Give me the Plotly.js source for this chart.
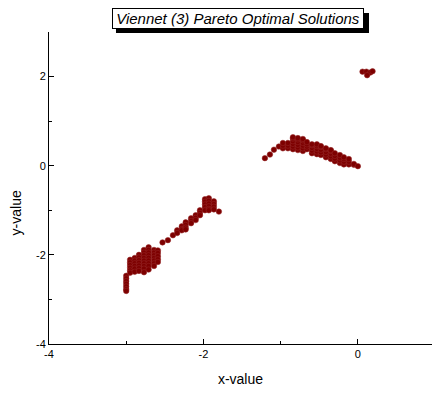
<!DOCTYPE html>
<html>
<head>
<meta charset="utf-8">
<script src="https://cdn.plot.ly/plotly-3.0.1.min.js"></script>
<style>html,body{margin:0;padding:0;background:#fff;}#chart{width:432px;height:393px;}</style>
</head>
<body>
<div id="chart"></div>
<script>
// Pareto optimal solutions (x-value, y-value)
const xValues = [
  -3.00,-3.00,-3.00,-3.00,-3.00,-3.00,-3.00,
  -2.95,-2.95,-2.95,-2.95,-2.95,-2.95,
  -2.89,-2.89,-2.89,-2.89,-2.89,-2.89,
  -2.835,-2.835,-2.835,-2.835,-2.835,-2.835,-2.835,
  -2.77,-2.77,-2.77,-2.77,-2.77,-2.77,-2.77,-2.77,-2.77,
  -2.71,-2.71,-2.71,-2.71,-2.71,-2.71,-2.71,-2.71,-2.71,
  -2.64,-2.64,-2.64,-2.64,-2.64,-2.64,-2.64,
  -2.59,-2.59,-2.59,-2.59,-2.59,
  -2.53,
  -2.46,
  -2.395,
  -2.34,-2.34,
  -2.28,-2.28,-2.28,
  -2.23,-2.23,-2.23,-2.23,
  -2.16,-2.16,-2.16,
  -2.10,-2.10,-2.10,
  -2.045,-2.045,-2.045,
  -1.98,-1.98,-1.98,-1.98,-1.98,
  -1.93,-1.93,-1.93,-1.93,-1.93,-1.93,
  -1.865,-1.865,-1.865,-1.865,
  -1.80,
  -1.204,
  -1.139,
  -1.087,
  -1.023,
  -0.971,-0.971,-0.971,
  -0.906,-0.906,-0.906,
  -0.841,-0.841,-0.841,-0.841,-0.841,-0.841,
  -0.777,-0.777,-0.777,-0.777,-0.777,-0.777,
  -0.712,-0.712,-0.712,-0.712,-0.712,-0.712,
  -0.66,-0.66,-0.66,-0.66,
  -0.595,-0.595,-0.595,-0.595,-0.595,
  -0.531,-0.531,-0.531,-0.531,-0.531,
  -0.479,-0.479,-0.479,-0.479,-0.479,
  -0.414,-0.414,-0.414,-0.414,-0.414,
  -0.35,-0.35,-0.35,-0.35,-0.35,
  -0.298,-0.298,-0.298,-0.298,
  -0.233,-0.233,-0.233,-0.233,
  -0.181,-0.181,-0.181,-0.181,
  -0.117,-0.117,-0.117,
  -0.052,-0.052,
  0.00,
  0.06, 0.11, 0.16, 0.19, 0.12
];
const yValues = [
  -2.47,-2.53,-2.59,-2.65,-2.71,-2.77,-2.81,
  -2.11,-2.17,-2.23,-2.29,-2.35,-2.40,
  -2.07,-2.13,-2.19,-2.25,-2.31,-2.38,
  -2.00,-2.06,-2.12,-2.18,-2.24,-2.30,-2.36,
  -1.89,-1.95,-2.01,-2.07,-2.13,-2.19,-2.25,-2.31,-2.39,
  -1.83,-1.89,-1.95,-2.01,-2.07,-2.13,-2.19,-2.25,-2.33,
  -1.89,-1.95,-2.01,-2.07,-2.13,-2.19,-2.25,
  -1.90,-1.96,-2.03,-2.10,-2.16,
  -1.72,
  -1.67,
  -1.56,
  -1.45,-1.51,
  -1.36,-1.42,-1.45,
  -1.27,-1.33,-1.39,-1.43,
  -1.18,-1.24,-1.29,
  -1.11,-1.17,-1.22,
  -1.00,-1.06,-1.11,
  -0.75,-0.81,-0.87,-0.93,-1.00,
  -0.73,-0.79,-0.85,-0.91,-0.97,-1.00,
  -0.80,-0.86,-0.92,-0.98,
  -1.03,
  0.17,
  0.25,
  0.36,
  0.43,
  0.39,0.45,0.51,
  0.39,0.45,0.51,
  0.37,0.43,0.49,0.55,0.61,0.64,
  0.35,0.41,0.47,0.53,0.59,0.62,
  0.33,0.39,0.45,0.51,0.57,0.60,
  0.37,0.43,0.48,0.53,
  0.28,0.34,0.40,0.46,0.48,
  0.26,0.32,0.38,0.44,0.48,
  0.24,0.30,0.36,0.42,0.44,
  0.19,0.25,0.31,0.37,0.39,
  0.15,0.21,0.27,0.33,0.35,
  0.10,0.16,0.22,0.28,
  0.06,0.12,0.18,0.24,
  0.03,0.09,0.15,0.19,
  0.03,0.09,0.15,
  0.02,0.04,
  -0.01,
  2.11, 2.11, 2.09, 2.12, 2.03
];
const xTickVals = [-4, -2, 0];
const yTickVals = [-4, -2, 0, 2];
const chartTitle = 'Viennet (3) Pareto Optimal Solutions';
const xTitle = 'x-value';
const yTitle = 'y-value';

const FONT = 'Liberation Sans, Arial, sans-serif';

const trace = {
  type: 'scatter',
  mode: 'markers',
  x: xValues,
  y: yValues,
  marker: {color: '#7d0000', size: 5.5, line: {color: 'rgba(150,40,40,0.9)', width: 0.6}},
  hoverinfo: 'x+y',
  showlegend: false
};

const axisCommon = {
  showline: true, linecolor: '#000', linewidth: 1,
  ticks: 'inside', ticklen: 5, tickwidth: 1, tickcolor: '#000',
  showgrid: false, zeroline: false,
  tickfont: {family: FONT, size: 11, color: '#000'},
  minor: {ticks: 'inside', ticklen: 3, tickwidth: 1, tickcolor: '#000', dtick: 1, showgrid: false}
};

const layout = {
  width: 432, height: 393,
  margin: {l: 49, r: 0, t: 32, b: 49},
  paper_bgcolor: '#fff', plot_bgcolor: '#fff',
  font: {family: FONT, color: '#000'},
  xaxis: Object.assign({}, axisCommon, {
    range: [-4, 0.96], tickvals: xTickVals, ticktext: xTickVals.map(String),
    title: {text: xTitle, font: {family: FONT, size: 14, color: '#000'}, standoff: 14}
  }),
  yaxis: Object.assign({}, axisCommon, {
    range: [-4, 3], tickvals: yTickVals, ticktext: yTickVals.map(String),
    title: {text: ''}
  }),
  shapes: [
    // drop shadow of the title box
    {type: 'rect', xref: 'paper', yref: 'paper', x0: 0.1749, x1: 0.8355, y0: 0.9968, y1: 1.0609,
     fillcolor: '#000', line: {width: 0}, layer: 'above'}
  ],
  annotations: [
    {xref: 'paper', yref: 'paper', x: -0.085, y: 0.42, xanchor: 'center', yanchor: 'middle',
     text: yTitle, textangle: -90, showarrow: false,
     font: {family: FONT, size: 14, color: '#000'}},
    {xref: 'paper', yref: 'paper', x: 0.4945, y: 1.0417, xanchor: 'center', yanchor: 'middle',
     text: '<i>' + chartTitle + '</i>', showarrow: false,
     width: 247, height: 16, align: 'center',
     font: {family: FONT, size: 15, color: '#000'},
     bgcolor: '#fff', bordercolor: '#000', borderwidth: 1, borderpad: 1.5}
  ]
};

Plotly.newPlot('chart', [trace], layout, {displayModeBar: false, staticPlot: true});
</script>
</body>
</html>
